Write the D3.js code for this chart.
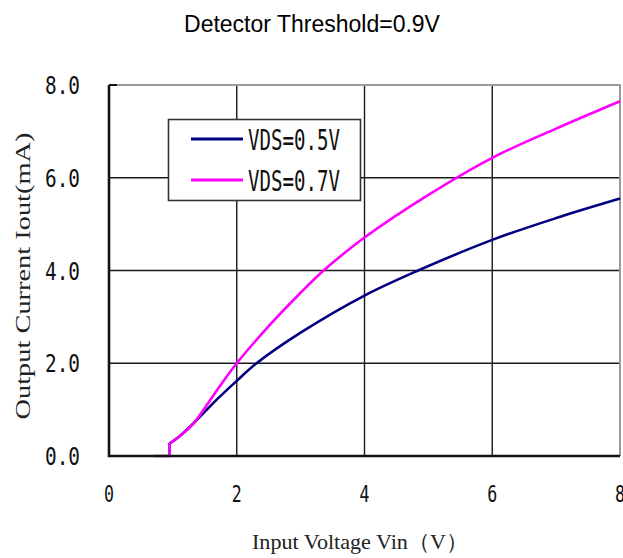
<!DOCTYPE html>
<html><head><meta charset="utf-8">
<script src="https://cdn.jsdelivr.net/npm/d3@7"></script>
<style>body{margin:0;background:#fff}svg{display:block}</style>
</head><body>
<svg id="c" width="623" height="558"></svg>
<script>
const title = "Detector Threshold=0.9V";
const xLabel = "Input Voltage Vin（V）";
const yLabel = "Output Current Iout(mA)";
const xTicks = [0, 2, 4, 6, 8];
const yTicks = [0, 2, 4, 6, 8];
const seriesNames = ["VDS=0.5V", "VDS=0.7V"];
const seriesColors = ["#000080", "#ff00ff"];
// VDS=0.5V
const vin05 = [0.95, 0.95, 1.1, 1.32, 1.69, 2, 2.31, 3, 4, 4.84, 6, 7, 8];
const iout05 = [0, 0.27, 0.42, 0.7, 1.22, 1.62, 2.0, 2.66, 3.46, 4.0, 4.66, 5.13, 5.55];
// VDS=0.7V
const vin07 = [0.7, 0.95, 0.95, 1.1, 1.32, 1.69, 2, 2.5, 3, 3.36, 4, 5, 6, 7, 8];
const iout07 = [0, 0, 0.27, 0.42, 0.7, 1.42, 2.0, 2.8, 3.52, 4.0, 4.71, 5.63, 6.43, 7.06, 7.65];

const svg = d3.select("#c");
const L = 109, R = 620, T = 85, B = 456;
const x = d3.scaleLinear().domain([0, 8]).range([L, R]);
const y = d3.scaleLinear().domain([0, 8]).range([B, T]);

// title
svg.append("text").attr("x", 312).attr("y", 32).attr("text-anchor", "middle")
  .attr("font-family", "Liberation Sans, Arial, sans-serif").attr("font-size", 23)
  .attr("fill", "#000").text(title);

// grid
const g = svg.append("g");
g.selectAll(".gx").data(xTicks.filter(d => d > 0 && d < 8)).enter().append("line")
  .attr("x1", d => x(d)).attr("x2", d => x(d)).attr("y1", T).attr("y2", B)
  .attr("stroke", "#1a1a1a").attr("stroke-width", 1.4);
g.selectAll(".gy").data(yTicks.filter(d => d > 0 && d < 8)).enter().append("line")
  .attr("y1", d => y(d)).attr("y2", d => y(d)).attr("x1", L).attr("x2", R)
  .attr("stroke", "#1a1a1a").attr("stroke-width", 1.4);

// top/right border
svg.append("path").attr("d", `M${L},${T}H${R}V${B}`).attr("fill", "none")
  .attr("stroke", "#9a9a9a").attr("stroke-width", 2);

// legend box
svg.append("rect").attr("x", 168.5).attr("y", 119.5).attr("width", 192).attr("height", 81)
  .attr("fill", "#fff").attr("stroke", "#333").attr("stroke-width", 1.6);
const legY = [139, 180];
seriesNames.forEach((n, i) => {
  svg.append("line").attr("x1", 191).attr("x2", 243).attr("y1", legY[i]).attr("y2", legY[i])
    .attr("stroke", seriesColors[i]).attr("stroke-width", 3);
  svg.append("text").attr("x", 248).attr("y", legY[i] + 10.5)
    .attr("font-family", "DejaVu Sans Mono, monospace").attr("font-size", 29)
    .attr("textLength", 92).attr("lengthAdjust", "spacingAndGlyphs")
    .attr("fill", "#111").text(n);
});

// curves
function pathFor(xs, ys) {
  const pts = xs.map((v, i) => [x(v), y(ys[i])]);
  let k = 0;
  for (let i = 1; i < xs.length; i++) if (xs[i] === xs[i - 1]) { k = i; break; }
  const lin = d3.line().curve(d3.curveLinear)(pts.slice(0, k + 1));
  const smooth = d3.line().curve(d3.curveCatmullRom.alpha(0.5))(pts.slice(k));
  return lin + smooth.replace(/^M/, "L");
}
svg.append("path").attr("d", pathFor(vin05, iout05)).attr("fill", "none")
  .attr("stroke", seriesColors[0]).attr("stroke-width", 2.6).attr("stroke-linejoin", "round");
svg.append("path").attr("d", pathFor(vin07, iout07)).attr("fill", "none")
  .attr("stroke", seriesColors[1]).attr("stroke-width", 2.6).attr("stroke-linejoin", "round");

// axes lines (left and bottom thick)
svg.append("path").attr("d", `M${L},${T}V${B}H${R}`).attr("fill", "none")
  .attr("stroke", "#111").attr("stroke-width", 2.6);
svg.append("line").attr("x1", L).attr("x2", L + 8).attr("y1", T).attr("y2", T)
  .attr("stroke", "#111").attr("stroke-width", 2);

// tick labels
svg.selectAll(".yt").data(yTicks).enter().append("text")
  .attr("x", 80).attr("y", d => y(d) + 9).attr("text-anchor", "end")
  .attr("font-family", "DejaVu Sans Mono, monospace").attr("font-size", 24)
  .attr("textLength", 35).attr("lengthAdjust", "spacingAndGlyphs")
  .attr("fill", "#111").text(d => d.toFixed(1));
svg.selectAll(".xt").data(xTicks).enter().append("text")
  .attr("x", d => x(d) - 5).attr("y", 502)
  .attr("font-family", "DejaVu Sans Mono, monospace").attr("font-size", 23)
  .attr("textLength", 10).attr("lengthAdjust", "spacingAndGlyphs")
  .attr("fill", "#111").text(d => d);

// axis titles
svg.append("text").attr("x", 252).attr("y", 549)
  .attr("font-family", "Liberation Serif, Times New Roman, serif").attr("font-size", 22)
  .attr("textLength", 216).attr("lengthAdjust", "spacingAndGlyphs")
  .attr("fill", "#222").text(xLabel);
svg.append("text").attr("transform", "translate(30,276) rotate(-90)")
  .attr("text-anchor", "middle")
  .attr("font-family", "Liberation Serif, Times New Roman, serif").attr("font-size", 22)
  .attr("textLength", 287).attr("lengthAdjust", "spacingAndGlyphs")
  .attr("fill", "#222").text(yLabel);
</script>
</body></html>
